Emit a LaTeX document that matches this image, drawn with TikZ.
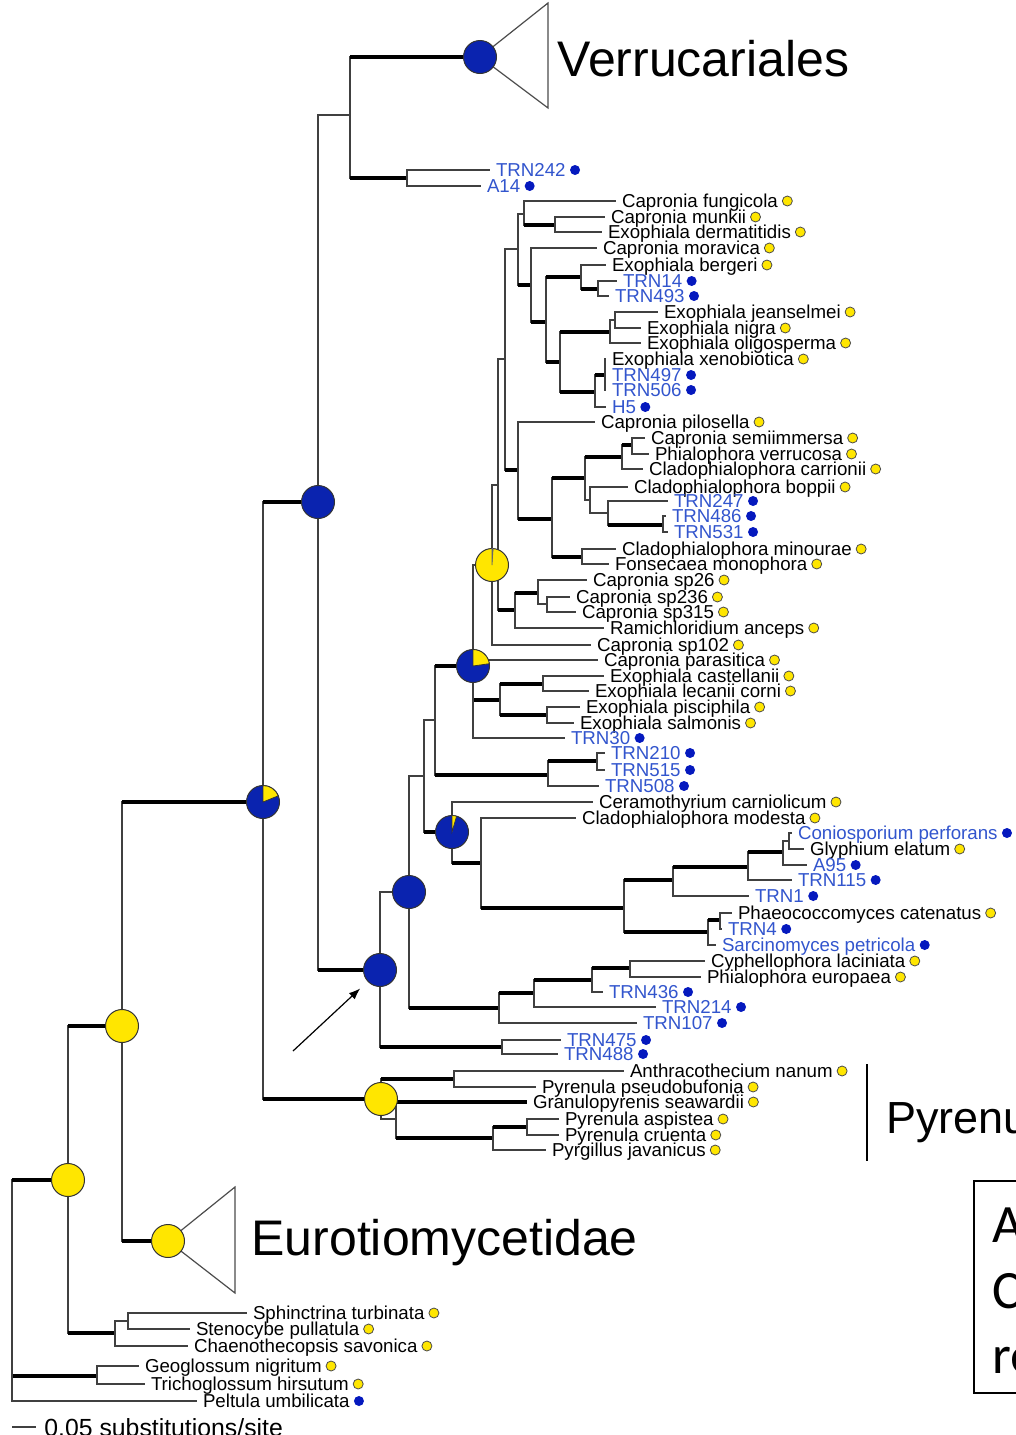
\documentclass[tikz,border=0pt]{standalone}
\usepackage{fontspec}
\setmainfont{Liberation Sans}
\newfontfamily\boxfont{Carlito}
\usetikzlibrary{arrows.meta, positioning}

\definecolor{nodeblue}{RGB}{10,35,175}
\definecolor{nodeyellow}{RGB}{255,230,0}
\definecolor{dotblue}{RGB}{5,25,190}
\definecolor{labelblue}{RGB}{50,85,205}

\newcommand{\leaffont}{\fontsize{9.35}{10}\selectfont}
\newcommand{\cladefont}{\fontsize{25}{28}\selectfont}

\begin{document}
\begin{tikzpicture}[x=0.5pt, y=-0.5pt, >=Latex, every node/.style={font=\leaffont},
  br/.style={line width=0.75pt, black!75},
  tbr/.style={line width=2.2pt, black},
  tri/.style={line width=0.6pt, black!70},
  leaf/.style={anchor=west, inner xsep=3pt, inner ysep=0pt, outer sep=0pt, text height=6.7pt, text depth=0pt},
  bleaf/.style={leaf, text=labelblue},
  ydot/.style={circle, draw=black!70, line width=0.4pt, fill=nodeyellow, minimum size=5pt, inner sep=0pt},
  bdot/.style={circle, fill=dotblue, minimum size=5pt, inner sep=0pt},
  bnode/.style={circle, draw=black!80, line width=0.5pt, fill=nodeblue, minimum size=16.5pt, inner sep=0pt},
  ynode/.style={bnode, fill=nodeyellow},
  clade/.style={font=\cladefont, anchor=base west, inner sep=0pt}]

\useasboundingbox (0,0) rectangle (1016,1435);
\clip (0,0) rectangle (1016,1435);

% Internal nodes
\coordinate (root) at (12,1290);
\coordinate (nA) at (68,1180);
\coordinate (nGeo) at (97,1376);
\coordinate (nSph) at (115,1333);
\coordinate (nSph1) at (128,1321);
\coordinate (nB) at (122,1026);
\coordinate (nEur) at (168,1241);
\coordinate (nC) at (263,802);
\coordinate (nD) at (318,502);
\coordinate (nV) at (381,1099);
\coordinate (nE) at (350,115);
\coordinate (nVerr) at (480,57);
\coordinate (nX) at (407,178);
\coordinate (nF) at (380,970);
\coordinate (nG) at (409,892);
\coordinate (nU) at (502,1047);
\coordinate (nI) at (424,776);
\coordinate (nS) at (499,1008);
\coordinate (nH) at (435,720);
\coordinate (nP2) at (452,832);
\coordinate (nPN) at (473,666);
\coordinate (nT1) at (548,775);
\coordinate (nT2) at (597,761);
\coordinate (nY1) at (492,565);
\coordinate (nL) at (500,700);
\coordinate (nL1) at (543,684);
\coordinate (nL2) at (547,715);
\coordinate (nK0) at (498,485);
\coordinate (nK) at (515,610);
\coordinate (nK1) at (538,593);
\coordinate (nK2) at (547,604);
\coordinate (nP1) at (505,359);
\coordinate (nN3) at (518,249);
\coordinate (nN1) at (524,214);
\coordinate (nN2) at (555,225);
\coordinate (nN4) at (531,285);
\coordinate (nN5) at (546,322);
\coordinate (nN6) at (581,277);
\coordinate (nN7) at (598,289);
\coordinate (nN8) at (560,362);
\coordinate (nN9) at (610,332);
\coordinate (nN10) at (615,320);
\coordinate (nN11) at (595,392);
\coordinate (nN12) at (605,375);
\coordinate (nQ1) at (518,470);
\coordinate (nQ2) at (552,519);
\coordinate (nQ3) at (585,478);
\coordinate (nQ4) at (622,457);
\coordinate (nQ5) at (632,445);
\coordinate (nQ6) at (590,500);
\coordinate (nQ7) at (608,513);
\coordinate (nQ8) at (663,525);
\coordinate (nQ9) at (582,557);
\coordinate (nR) at (481,863);
\coordinate (nR1) at (624,908);
\coordinate (nR2) at (673,880);
\coordinate (nR3) at (748,867);
\coordinate (nR4) at (783,852);
\coordinate (nR4a) at (789,841);
\coordinate (nR5) at (708,932);
\coordinate (nR6) at (720,920);
\coordinate (nS1) at (534,993);
\coordinate (nS2) at (592,980);
\coordinate (nS3) at (630,968);
\coordinate (nV1) at (454,1079);
\coordinate (nW) at (396,1119);
\coordinate (nW1) at (493,1138);
\coordinate (nW2) at (527,1127);

% Leaves
\node[bleaf] (t242) at (490,170) {TRN242}; \node[bdot, right=-1pt of t242] (t242d) {};
\node[bleaf] (a14) at (481,186) {A14}; \node[bdot, right=-1pt of a14] (a14d) {};
\node[leaf] (fung) at (616,201) {Capronia fungicola}; \node[ydot, right=-1pt of fung] (fungd) {};
\node[leaf] (munk) at (605,217) {Capronia munkii}; \node[ydot, right=-1pt of munk] (munkd) {};
\node[leaf] (derm) at (602,232) {Exophiala dermatitidis}; \node[ydot, right=-1pt of derm] (dermd) {};
\node[leaf] (mora) at (597,248) {Capronia moravica}; \node[ydot, right=-1pt of mora] (morad) {};
\node[leaf] (berg) at (606,265) {Exophiala bergeri}; \node[ydot, right=-1pt of berg] (bergd) {};
\node[bleaf] (t14) at (617,281) {TRN14}; \node[bdot, right=-1pt of t14] (t14d) {};
\node[bleaf] (t493) at (609,296) {TRN493}; \node[bdot, right=-1pt of t493] (t493d) {};
\node[leaf] (jean) at (658,312) {Exophiala jeanselmei}; \node[ydot, right=-1pt of jean] (jeand) {};
\node[leaf] (nigr) at (641,328) {Exophiala nigra}; \node[ydot, right=-1pt of nigr] (nigrd) {};
\node[leaf] (olig) at (641,343) {Exophiala oligosperma}; \node[ydot, right=-1pt of olig] (oligd) {};
\node[leaf] (xeno) at (606,359) {Exophiala xenobiotica}; \node[ydot, right=-1pt of xeno] (xenod) {};
\node[bleaf] (t497) at (606,375) {TRN497}; \node[bdot, right=-1pt of t497] (t497d) {};
\node[bleaf] (t506) at (606,390) {TRN506}; \node[bdot, right=-1pt of t506] (t506d) {};
\node[bleaf] (h5) at (606,407) {H5}; \node[bdot, right=-1pt of h5] (h5d) {};
\node[leaf] (pilo) at (595,422) {Capronia pilosella}; \node[ydot, right=-1pt of pilo] (pilod) {};
\node[leaf] (semi) at (645,438) {Capronia semiimmersa}; \node[ydot, right=-1pt of semi] (semid) {};
\node[leaf] (verru) at (649,454) {Phialophora verrucosa}; \node[ydot, right=-1pt of verru] (verrud) {};
\node[leaf] (carr) at (643,469) {Cladophialophora carrionii}; \node[ydot, right=-1pt of carr] (carrd) {};
\node[leaf] (bopp) at (628,487) {Cladophialophora boppii}; \node[ydot, right=-1pt of bopp] (boppd) {};
\node[bleaf] (t247) at (668,501) {TRN247}; \node[bdot, right=-1pt of t247] (t247d) {};
\node[bleaf] (t486) at (666,516) {TRN486}; \node[bdot, right=-1pt of t486] (t486d) {};
\node[bleaf] (t531) at (668,532) {TRN531}; \node[bdot, right=-1pt of t531] (t531d) {};
\node[leaf] (mino) at (616,549) {Cladophialophora minourae}; \node[ydot, right=-1pt of mino] (minod) {};
\node[leaf] (mono) at (609,564) {Fonsecaea monophora}; \node[ydot, right=-1pt of mono] (monod) {};
\node[leaf] (sp26) at (587,580) {Capronia sp26}; \node[ydot, right=-1pt of sp26] (sp26d) {};
\node[leaf] (sp236) at (570,597) {Capronia sp236}; \node[ydot, right=-1pt of sp236] (sp236d) {};
\node[leaf] (sp315) at (576,612) {Capronia sp315}; \node[ydot, right=-1pt of sp315] (sp315d) {};
\node[leaf] (rami) at (604,628) {Ramichloridium anceps}; \node[ydot, right=-1pt of rami] (ramid) {};
\node[leaf] (sp102) at (591,645) {Capronia sp102}; \node[ydot, right=-1pt of sp102] (sp102d) {};
\node[leaf] (para) at (598,660) {Capronia parasitica}; \node[ydot, right=-1pt of para] (parad) {};
\node[leaf] (cast) at (604,676) {Exophiala castellanii}; \node[ydot, right=-1pt of cast] (castd) {};
\node[leaf] (leca) at (589,691) {Exophiala lecanii corni}; \node[ydot, right=-1pt of leca] (lecad) {};
\node[leaf] (pisc) at (580,707) {Exophiala pisciphila}; \node[ydot, right=-1pt of pisc] (piscd) {};
\node[leaf] (salm) at (574,723) {Exophiala salmonis}; \node[ydot, right=-1pt of salm] (salmd) {};
\node[bleaf] (t30) at (565,738) {TRN30}; \node[bdot, right=-1pt of t30] (t30d) {};
\node[bleaf] (t210) at (605,753) {TRN210}; \node[bdot, right=-1pt of t210] (t210d) {};
\node[bleaf] (t515) at (605,770) {TRN515}; \node[bdot, right=-1pt of t515] (t515d) {};
\node[bleaf] (t508) at (599,786) {TRN508}; \node[bdot, right=-1pt of t508] (t508d) {};
\node[leaf] (cera) at (593,802) {Ceramothyrium carniolicum}; \node[ydot, right=-1pt of cera] (cerad) {};
\node[leaf] (mode) at (576,818) {Cladophialophora modesta}; \node[ydot, right=-1pt of mode] (moded) {};
\node[bleaf] (coni) at (792,833) {Coniosporium perforans}; \node[bdot, right=-1pt of coni] (conid) {};
\node[leaf] (glyp) at (804,849) {Glyphium elatum}; \node[ydot, right=-1pt of glyp] (glypd) {};
\node[bleaf] (a95) at (807,865) {A95}; \node[bdot, right=-1pt of a95] (a95d) {};
\node[bleaf] (t115) at (792,880) {TRN115}; \node[bdot, right=-1pt of t115] (t115d) {};
\node[bleaf] (t1) at (749,896) {TRN1}; \node[bdot, right=-1pt of t1] (t1d) {};
\node[leaf] (phae) at (732,913) {Phaeococcomyces catenatus}; \node[ydot, right=-1pt of phae] (phaed) {};
\node[bleaf] (t4) at (722,929) {TRN4}; \node[bdot, right=-1pt of t4] (t4d) {};
\node[bleaf] (sarc) at (716,945) {Sarcinomyces petricola}; \node[bdot, right=-1pt of sarc] (sarcd) {};
\node[leaf] (cyph) at (705,961) {Cyphellophora laciniata}; \node[ydot, right=-1pt of cyph] (cyphd) {};
\node[leaf] (euro) at (701,977) {Phialophora europaea}; \node[ydot, right=-1pt of euro] (eurod) {};
\node[bleaf] (t436) at (603,992) {TRN436}; \node[bdot, right=-1pt of t436] (t436d) {};
\node[bleaf] (t214) at (656,1007) {TRN214}; \node[bdot, right=-1pt of t214] (t214d) {};
\node[bleaf] (t107) at (637,1023) {TRN107}; \node[bdot, right=-1pt of t107] (t107d) {};
\node[bleaf] (t475) at (561,1040) {TRN475}; \node[bdot, right=-1pt of t475] (t475d) {};
\node[bleaf] (t488) at (558,1054) {TRN488}; \node[bdot, right=-1pt of t488] (t488d) {};
\node[leaf] (anth) at (624,1071) {Anthracothecium nanum}; \node[ydot, right=-1pt of anth] (anthd) {};
\node[leaf] (pseu) at (536,1087) {Pyrenula pseudobufonia}; \node[ydot, right=-1pt of pseu] (pseud) {};
\node[leaf] (gran) at (527,1102) {Granulopyrenis seawardii}; \node[ydot, right=-1pt of gran] (grand) {};
\node[leaf] (aspi) at (559,1119) {Pyrenula aspistea}; \node[ydot, right=-1pt of aspi] (aspid) {};
\node[leaf] (crue) at (559,1135) {Pyrenula cruenta}; \node[ydot, right=-1pt of crue] (crued) {};
\node[leaf] (pyrg) at (546,1150) {Pyrgillus javanicus}; \node[ydot, right=-1pt of pyrg] (pyrgd) {};
\node[leaf] (sphi) at (247,1313) {Sphinctrina turbinata}; \node[ydot, right=-1pt of sphi] (sphid) {};
\node[leaf] (sten) at (190,1329) {Stenocybe pullatula}; \node[ydot, right=-1pt of sten] (stend) {};
\node[leaf] (chae) at (188,1346) {Chaenothecopsis savonica}; \node[ydot, right=-1pt of chae] (chaed) {};
\node[leaf] (geog) at (139,1366) {Geoglossum nigritum}; \node[ydot, right=-1pt of geog] (geogd) {};
\node[leaf] (tric) at (145,1384) {Trichoglossum hirsutum}; \node[ydot, right=-1pt of tric] (tricd) {};
\node[leaf] (pelt) at (197,1401) {Peltula umbilicata}; \node[bdot, right=-1pt of pelt] (peltd) {};

% Collapsed clades
\draw[tri] (nVerr) -- (548,3) -- (548,108) -- cycle;
\draw[tri] (nEur) -- (235,1187) -- (235,1293) -- cycle;

% Branches
\draw[br] (root) |- (nA); \draw[tbr] (root |- nA) -- (nA);
\draw[br] (root) |- (nGeo); \draw[tbr] (root |- nGeo) -- (nGeo);
\draw[br] (root) |- (pelt.west);
\draw[br] (nGeo) |- (geog.west);
\draw[br] (nGeo) |- (tric.west);
\draw[br] (nA) |- (nB); \draw[tbr] (nA |- nB) -- (nB);
\draw[br] (nA) |- (nSph); \draw[tbr] (nA |- nSph) -- (nSph);
\draw[br] (nSph) |- (nSph1);
\draw[br] (nSph) |- (chae.west);
\draw[br] (nSph1) |- (sphi.west);
\draw[br] (nSph1) |- (sten.west);
\draw[br] (nB) |- (nC); \draw[tbr] (nB |- nC) -- (nC);
\draw[br] (nB) |- (nEur); \draw[tbr] (nB |- nEur) -- (nEur);
\draw[br] (nC) |- (nD); \draw[tbr] (nC |- nD) -- (nD);
\draw[br] (nC) |- (nV); \draw[tbr] (nC |- nV) -- (nV);
\draw[br] (nD) |- (nE);
\draw[br] (nD) |- (nF); \draw[tbr] (nD |- nF) -- (nF);
\draw[br] (nE) |- (nVerr); \draw[tbr] (nE |- nVerr) -- (nVerr);
\draw[br] (nE) |- (nX); \draw[tbr] (nE |- nX) -- (nX);
\draw[br] (nX) |- (t242.west);
\draw[br] (nX) |- (a14.west);
\draw[br] (nF) |- (nG);
\draw[br] (nF) |- (nU); \draw[tbr] (nF |- nU) -- (nU);
\draw[br] (nU) |- (t475.west);
\draw[br] (nU) |- (t488.west);
\draw[br] (nG) |- (nI);
\draw[br] (nG) |- (nS); \draw[tbr] (nG |- nS) -- (nS);
\draw[br] (nI) |- (nH);
\draw[br] (nI) |- (nP2); \draw[tbr] (nI |- nP2) -- (nP2);
\draw[br] (nH) |- (nPN); \draw[tbr] (nH |- nPN) -- (nPN);
\draw[br] (nH) |- (nT1); \draw[tbr] (nH |- nT1) -- (nT1);
\draw[br] (nT1) |- (nT2); \draw[tbr] (nT1 |- nT2) -- (nT2);
\draw[br] (nT1) |- (t508.west);
\draw[br] (nT2) |- (t210.west);
\draw[br] (nT2) |- (t515.west);
\draw[br] (nPN) |- (nY1);
\draw[br] (nPN) |- (para.west);
\draw[br] (nPN) |- (nL); \draw[tbr] (nPN |- nL) -- (nL);
\draw[br] (nPN) |- (t30.west);
\draw[br] (nL) |- (nL1); \draw[tbr] (nL |- nL1) -- (nL1);
\draw[br] (nL) |- (nL2); \draw[tbr] (nL |- nL2) -- (nL2);
\draw[br] (nL1) |- (cast.west);
\draw[br] (nL1) |- (leca.west);
\draw[br] (nL2) |- (pisc.west);
\draw[br] (nL2) |- (salm.west);
\draw[br] (nY1) |- (nK0);
\draw[br] (nY1) |- (sp102.west);
\draw[br] (nK0) |- (nP1);
\draw[br] (nK0) |- (nK); \draw[tbr] (nK0 |- nK) -- (nK);
\draw[br] (nK) |- (nK1); \draw[tbr] (nK |- nK1) -- (nK1);
\draw[br] (nK) |- (rami.west);
\draw[br] (nK1) |- (sp26.west);
\draw[br] (nK1) |- (nK2);
\draw[br] (nK2) |- (sp236.west);
\draw[br] (nK2) |- (sp315.west);
\draw[br] (nP1) |- (nN3);
\draw[br] (nP1) |- (nQ1); \draw[tbr] (nP1 |- nQ1) -- (nQ1);
\draw[br] (nN3) |- (nN1);
\draw[br] (nN3) |- (nN4); \draw[tbr] (nN3 |- nN4) -- (nN4);
\draw[br] (nN1) |- (fung.west);
\draw[br] (nN1) |- (nN2); \draw[tbr] (nN1 |- nN2) -- (nN2);
\draw[br] (nN2) |- (munk.west);
\draw[br] (nN2) |- (derm.west);
\draw[br] (nN4) |- (mora.west);
\draw[br] (nN4) |- (nN5); \draw[tbr] (nN4 |- nN5) -- (nN5);
\draw[br] (nN5) |- (nN6); \draw[tbr] (nN5 |- nN6) -- (nN6);
\draw[br] (nN5) |- (nN8); \draw[tbr] (nN5 |- nN8) -- (nN8);
\draw[br] (nN6) |- (berg.west);
\draw[br] (nN6) |- (nN7); \draw[tbr] (nN6 |- nN7) -- (nN7);
\draw[br] (nN7) |- (t14.west);
\draw[br] (nN7) |- (t493.west);
\draw[br] (nN8) |- (nN9); \draw[tbr] (nN8 |- nN9) -- (nN9);
\draw[br] (nN8) |- (nN11); \draw[tbr] (nN8 |- nN11) -- (nN11);
\draw[br] (nN9) |- (nN10);
\draw[br] (nN9) |- (olig.west);
\draw[br] (nN10) |- (jean.west);
\draw[br] (nN10) |- (nigr.west);
\draw[br] (nN11) |- (nN12); \draw[tbr] (nN11 |- nN12) -- (nN12);
\draw[br] (nN11) |- (h5.west);
\draw[br] (nN12) |- (xeno.west);
\draw[br] (nN12) |- (t497.west);
\draw[br] (nN12) |- (t506.west);
\draw[br] (nQ1) |- (pilo.west);
\draw[br] (nQ1) |- (nQ2); \draw[tbr] (nQ1 |- nQ2) -- (nQ2);
\draw[br] (nQ2) |- (nQ3); \draw[tbr] (nQ2 |- nQ3) -- (nQ3);
\draw[br] (nQ2) |- (nQ9); \draw[tbr] (nQ2 |- nQ9) -- (nQ9);
\draw[br] (nQ3) |- (nQ4); \draw[tbr] (nQ3 |- nQ4) -- (nQ4);
\draw[br] (nQ3) |- (nQ6);
\draw[br] (nQ4) |- (nQ5); \draw[tbr] (nQ4 |- nQ5) -- (nQ5);
\draw[br] (nQ4) |- (carr.west);
\draw[br] (nQ5) |- (semi.west);
\draw[br] (nQ5) |- (verru.west);
\draw[br] (nQ6) |- (bopp.west);
\draw[br] (nQ6) |- (nQ7);
\draw[br] (nQ7) |- (t247.west);
\draw[br] (nQ7) |- (nQ8); \draw[tbr] (nQ7 |- nQ8) -- (nQ8);
\draw[br] (nQ8) |- (t486.west);
\draw[br] (nQ8) |- (t531.west);
\draw[br] (nQ9) |- (mino.west);
\draw[br] (nQ9) |- (mono.west);
\draw[br] (nP2) |- (cera.west);
\draw[br] (nP2) |- (nR); \draw[tbr] (nP2 |- nR) -- (nR);
\draw[br] (nR) |- (mode.west);
\draw[br] (nR) |- (nR1); \draw[tbr] (nR |- nR1) -- (nR1);
\draw[br] (nR1) |- (nR2); \draw[tbr] (nR1 |- nR2) -- (nR2);
\draw[br] (nR1) |- (nR5); \draw[tbr] (nR1 |- nR5) -- (nR5);
\draw[br] (nR2) |- (nR3); \draw[tbr] (nR2 |- nR3) -- (nR3);
\draw[br] (nR2) |- (t1.west);
\draw[br] (nR3) |- (nR4); \draw[tbr] (nR3 |- nR4) -- (nR4);
\draw[br] (nR3) |- (t115.west);
\draw[br] (nR4) |- (nR4a);
\draw[br] (nR4) |- (a95.west);
\draw[br] (nR4a) |- (coni.west);
\draw[br] (nR4a) |- (glyp.west);
\draw[br] (nR5) |- (nR6); \draw[tbr] (nR5 |- nR6) -- (nR6);
\draw[br] (nR5) |- (sarc.west);
\draw[br] (nR6) |- (phae.west);
\draw[br] (nR6) |- (t4.west);
\draw[br] (nS) |- (nS1); \draw[tbr] (nS |- nS1) -- (nS1);
\draw[br] (nS) |- (t107.west);
\draw[br] (nS1) |- (nS2); \draw[tbr] (nS1 |- nS2) -- (nS2);
\draw[br] (nS1) |- (t214.west);
\draw[br] (nS2) |- (nS3); \draw[tbr] (nS2 |- nS3) -- (nS3);
\draw[br] (nS2) |- (t436.west);
\draw[br] (nS3) |- (cyph.west);
\draw[br] (nS3) |- (euro.west);
\draw[br] (nV) |- (nV1); \draw[tbr] (nV |- nV1) -- (nV1);
\draw[br] (nV) |- (nW);
\draw[br] (nV1) |- (anth.west);
\draw[br] (nV1) |- (pseu.west);
\draw[br] (nW) |- (gran.west); \draw[tbr] (nW |- gran.west) -- (gran.west);
\draw[br] (nW) |- (nW1); \draw[tbr] (nW |- nW1) -- (nW1);
\draw[br] (nW1) |- (nW2); \draw[tbr] (nW1 |- nW2) -- (nW2);
\draw[br] (nW1) |- (pyrg.west);
\draw[br] (nW2) |- (aspi.west);
\draw[br] (nW2) |- (crue.west);

% Node states
\node[ynode] (nAm) at (nA) {};
\node[ynode] (nBm) at (nB) {};
\node[ynode] (nEurm) at (nEur) {};
\node[bnode] (nCm) at (nC) {};
\filldraw[fill=nodeyellow, draw=black!80, line width=0.4pt] (nC) -- ++(0pt,8.25pt) arc[start angle=90, end angle=22, radius=8.25pt] -- cycle;
\node[bnode] (nDm) at (nD) {};
\node[ynode] (nVm) at (nV) {};
\node[bnode] (nVerrm) at (nVerr) {};
\node[bnode] (nFm) at (nF) {};
\node[bnode] (nGm) at (nG) {};
\node[bnode] (nPNm) at (nPN) {};
\filldraw[fill=nodeyellow, draw=black!80, line width=0.4pt] (nPN) -- ++(0pt,8.25pt) arc[start angle=90, end angle=8, radius=8.25pt] -- cycle;
\node[bnode] (nP2m) at (nP2) {};
\filldraw[fill=nodeyellow, draw=black!80, line width=0.3pt] (nP2) -- ++(0pt,8.25pt) arc[start angle=90, end angle=74, radius=8.25pt] -- cycle;
\node[ynode] (nY1m) at (nY1) {};
\filldraw[fill=nodeblue, draw=black!60, line width=0.3pt] (nY1) -- ++(0pt,8.25pt) arc[start angle=90, end angle=86, radius=8.25pt] -- cycle;

% Labels
\node[clade] (verrl) at (557,76) {Verrucariales};
\node[clade] (eurl) at (251,1255) {Eurotiomycetidae};
\node[clade, font=\fontsize{22.5}{26}\selectfont] (pyrl) at (886,1133) {Pyrenulales};
\draw[line width=0.6pt] (867,1064) -- (867,1161);
\coordinate (arrtail) at (293,1051);
\draw[->, line width=0.6pt, shorten >=5pt] (arrtail) -- (nFm);
\coordinate (sbl) at (12,1427);
\coordinate (sbr) at (36,1427);
\draw[br] (sbl) -- (sbr);
\node[anchor=base west, inner sep=0pt, font=\fontsize{12.4}{14}\selectfont] (sbtext) at (44,1436) {0.05 substitutions/site};
\draw[line width=0.75pt] (974,1181) rectangle (1030,1393);
\node[anchor=base west, inner sep=0pt, font=\boxfont\fontsize{27}{32}\selectfont] (boxa) at (992,1242) {A};
\node[anchor=base west, inner sep=0pt, font=\boxfont\fontsize{27}{32}\selectfont] (boxc) at (992,1308) {C};
\node[anchor=base west, inner sep=0pt, font=\boxfont\fontsize{27}{32}\selectfont] (boxr) at (992,1373) {re};

\end{tikzpicture}
\end{document}
